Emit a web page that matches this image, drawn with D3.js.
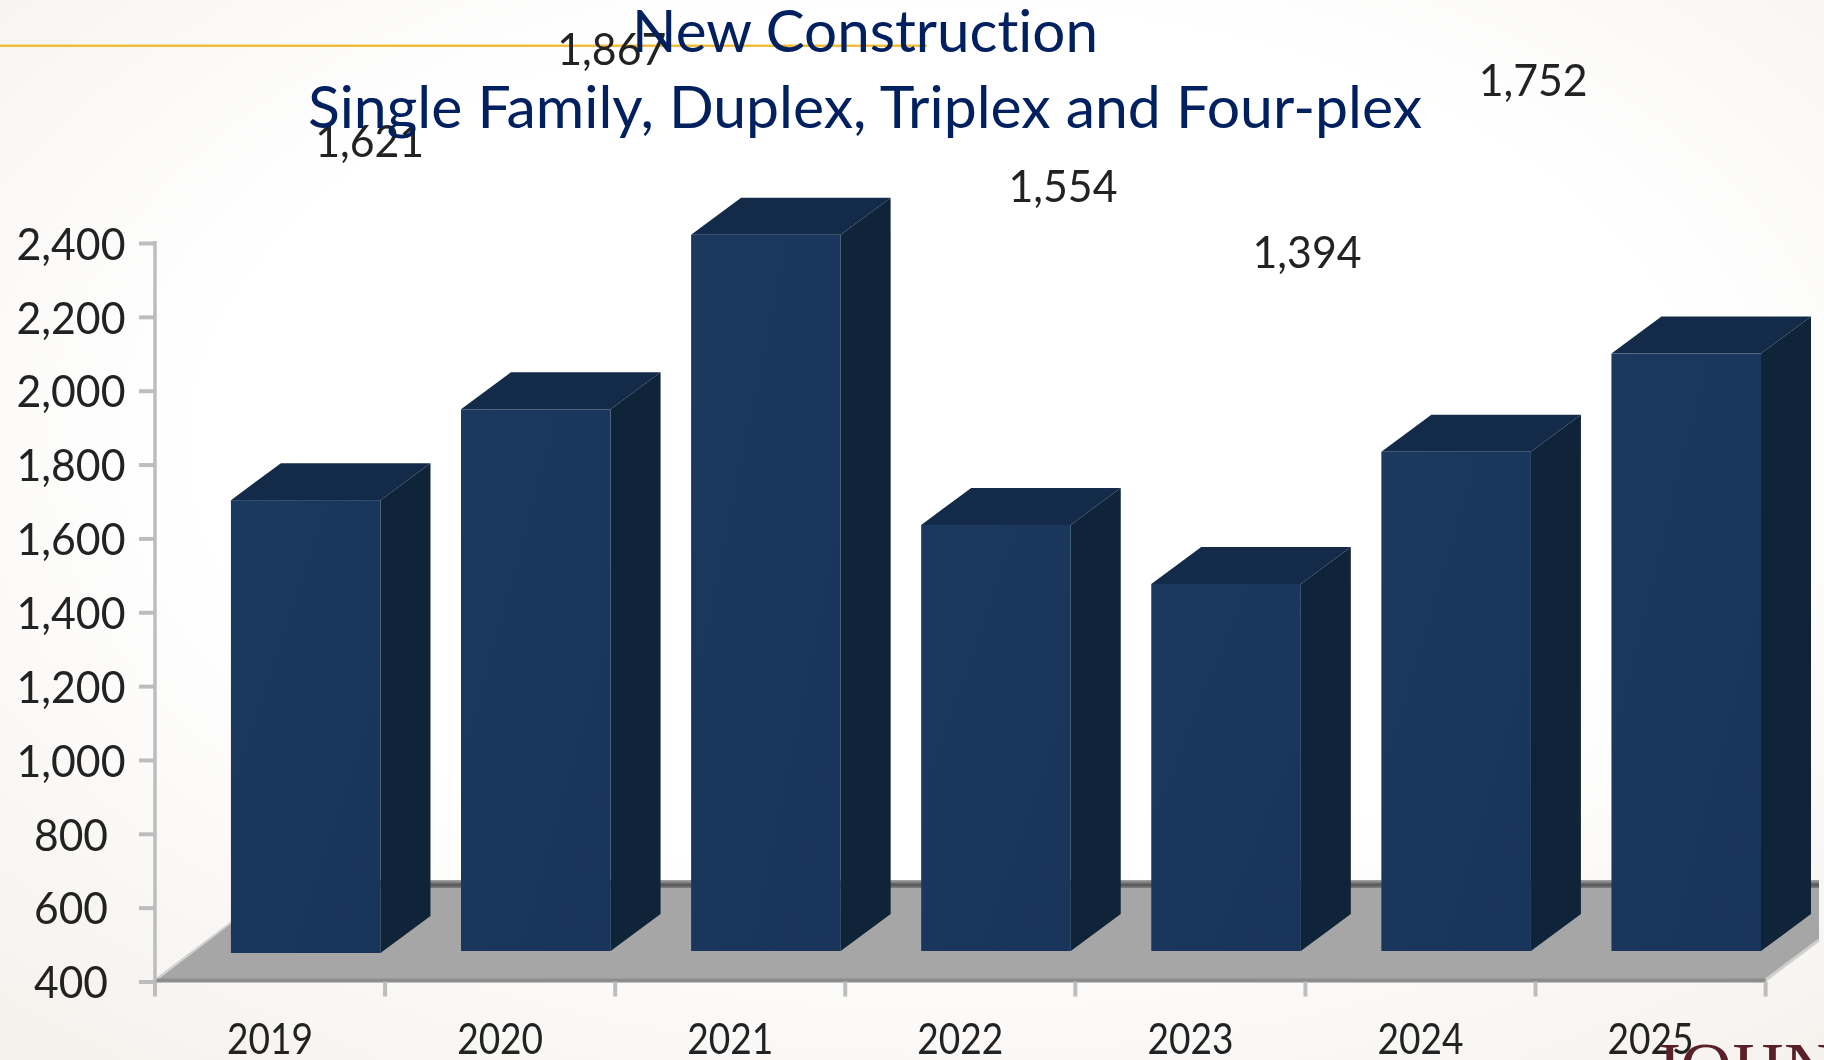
<!DOCTYPE html>
<html>
<head>
<meta charset="utf-8">
<script src="https://cdnjs.cloudflare.com/ajax/libs/d3/7.8.5/d3.min.js"></script>
<style>
  html, body { margin: 0; padding: 0; background: #fff; overflow: hidden; }
  svg { display: block; }
  text { font-family: Lato, "Open Sans", sans-serif; font-variant-ligatures: none; }
</style>
</head>
<body>
<svg id="chart" width="1824" height="1060"></svg>
<script>
// values read off the picture; 2021 and 2025 have no printed label, so those two are read from the bar height
const years = ["2019", "2020", "2021", "2022", "2023", "2024", "2025"]
const permits = [1621, 1867, 2340, 1554, 1394, 1752, 2018]
const printedYears = ["2019", "2020", "2022", "2023", "2024"]
const yTicks = [400, 600, 800, 1000, 1200, 1400, 1600, 1800, 2000, 2200, 2400]
const titleLines = ["New Construction", "Single Family, Duplex, Triplex and Four-plex"]

// where the stray data labels landed, relative to their bar (layout only)
const labelNudge = {
  "2019": [64, -343],
  "2020": [76, -344],
  "2022": [67, -323],
  "2023": [81, -316],
  "2024": [77, -356]
}

const depthX = 50
const depthY = 37
const barRise = 30.5 // front of the bars sits in front of the axis plane

const svg = d3.select("#chart")
const defs = svg.append("defs")

const bg = defs.append("radialGradient").attr("id", "bg")
  .attr("cx", "52%").attr("cy", "42%").attr("r", "75%")
bg.append("stop").attr("offset", "55%").attr("stop-color", "#ffffff")
bg.append("stop").attr("offset", "100%").attr("stop-color", "#f5f2ee")

const front = defs.append("linearGradient").attr("id", "front")
  .attr("x1", 0).attr("y1", 0).attr("x2", 1).attr("y2", 1)
front.append("stop").attr("offset", "0%").attr("stop-color", "#1b385f")
front.append("stop").attr("offset", "100%").attr("stop-color", "#18345a")

const backEdge = defs.append("linearGradient").attr("id", "backEdge")
  .attr("x1", 0).attr("y1", 0).attr("x2", 0).attr("y2", 1)
backEdge.append("stop").attr("offset", "0%").attr("stop-color", "#a8a8a8")
backEdge.append("stop").attr("offset", "60%").attr("stop-color", "#555555")
backEdge.append("stop").attr("offset", "100%").attr("stop-color", "#808080")

defs.append("filter").attr("id", "soft")
  .append("feGaussianBlur").attr("stdDeviation", 0.7)

svg.append("rect").attr("width", 1824).attr("height", 1060).attr("fill", "url(#bg)")

svg.append("rect").attr("x", 0).attr("y", 44.5).attr("width", 927).attr("height", 2.5).attr("fill", "#f0bd3c")

const x = d3.scaleBand().domain(years).range([155, 1765.6])
const y = d3.scaleLinear().domain([400, 2400]).range([981.5, 243])
const barWidth = x.bandwidth() * 0.65
const barLeft = year => x(year) + x.bandwidth() * 0.33
const barTop = value => y(value) - barRise
const barBase = year => y(400) - barRise + (year === "2019" ? 2 : 0)

// stretch a text to the width it has in the picture
function fit(selection, width) {
  selection.attr("textLength", width).attr("lengthAdjust", "spacingAndGlyphs")
}

// floor
const floorBack = 885
const floorLeft = [155, y(400)]
const floorRight = [1765.6, y(400)]
svg.append("polygon")
  .attr("points", [floorLeft, [281, floorBack], [1819, floorBack], [1819, 940], floorRight].join(" "))
  .attr("fill", "#a6a6a6")
svg.append("rect").attr("x", 281).attr("y", 880).attr("width", 1538).attr("height", 8).attr("fill", "url(#backEdge)")
svg.append("line").attr("x1", 1765.6).attr("y1", 980).attr("x2", 1819).attr("y2", 940)
  .attr("stroke", "#cfcfcf").attr("stroke-width", 3)
svg.append("line").attr("x1", 155).attr("y1", 980).attr("x2", 281).attr("y2", floorBack)
  .attr("stroke", "#cfcfcf").attr("stroke-width", 2)
svg.append("line").attr("x1", 155).attr("y1", y(400) - 1).attr("x2", 1765.6).attr("y2", y(400) - 1)
  .attr("stroke", "#8c8c8c").attr("stroke-width", 4)

// y axis
const yAxis = svg.append("g")
  .attr("transform", "translate(155,0)")
  .call(d3.axisLeft(y).tickValues(yTicks).tickFormat(d3.format(",")).tickSize(16).tickPadding(0))
yAxis.select(".domain").remove()
yAxis.append("line").attr("y1", y(2400) - 2).attr("y2", y(400)).attr("stroke", "#bdbdbd").attr("stroke-width", 3.5)
yAxis.selectAll(".tick line").attr("stroke", "#bdbdbd").attr("stroke-width", 4)
yAxis.selectAll(".tick text")
  .attr("x", -84).attr("dy", "0.36em")
  .attr("text-anchor", "middle").attr("font-size", 45).attr("fill", "#222")
  .attr("filter", "url(#soft)")
  .each(function(d) { fit(d3.select(this), d >= 1000 ? 109 : 74) })

// x axis: the ticks sit on the band edges, the labels on the band centres
svg.append("g").selectAll("line")
  .data(years.concat("end"))
  .join("line")
  .attr("x1", d => d === "end" ? x.range()[1] : x(d))
  .attr("x2", d => d === "end" ? x.range()[1] : x(d))
  .attr("y1", y(400))
  .attr("y2", y(400) + 15)
  .attr("stroke", "#bdbdbd")
  .attr("stroke-width", 4)

const xAxis = svg.append("g")
  .attr("transform", `translate(0,${y(400)})`)
  .call(d3.axisBottom(x).tickSize(0).tickPadding(0))
xAxis.select(".domain").remove()
xAxis.selectAll(".tick text")
  .attr("y", 72.5).attr("dy", 0)
  .attr("font-size", 42).attr("fill", "#222")
  .attr("filter", "url(#soft)")
  .call(fit, 86)

// bars
const rows = years.map((year, i) => ({year, value: permits[i]}))
const bars = svg.append("g").selectAll("g").data(rows).join("g")

bars.append("polygon") // side
  .attr("points", d => {
    const r = barLeft(d.year) + barWidth
    const t = barTop(d.value)
    const b = barBase(d.year)
    return [[r, t], [r + depthX, t - depthY], [r + depthX, b - depthY], [r, b]].join(" ")
  })
  .attr("fill", "#0f2339")

bars.append("polygon") // top
  .attr("points", d => {
    const l = barLeft(d.year)
    const t = barTop(d.value)
    return [[l, t], [l + depthX, t - depthY], [l + barWidth + depthX, t - depthY], [l + barWidth, t]].join(" ")
  })
  .attr("fill", "#132a49")

bars.append("rect") // front
  .attr("x", d => barLeft(d.year))
  .attr("y", d => barTop(d.value))
  .attr("width", barWidth)
  .attr("height", d => barBase(d.year) - barTop(d.value))
  .attr("fill", "url(#front)")

// data labels
svg.append("g").selectAll("text")
  .data(rows.filter(d => printedYears.includes(d.year)))
  .join("text")
  .attr("x", d => barLeft(d.year) + barWidth / 2 + labelNudge[d.year][0])
  .attr("y", d => barTop(d.value) + labelNudge[d.year][1])
  .attr("text-anchor", "middle")
  .attr("font-size", 45)
  .attr("fill", "#222")
  .attr("filter", "url(#soft)")
  .text(d => d3.format(",")(d.value))
  .call(fit, 109)

// title
svg.append("g").selectAll("text")
  .data(titleLines)
  .join("text")
  .attr("x", 865)
  .attr("y", (d, i) => i === 0 ? 52 : 128)
  .attr("text-anchor", "middle")
  .attr("font-size", 58)
  .attr("fill", "#002060")
  .text(d => d)
  .each(function(d, i) { fit(d3.select(this), i === 0 ? 466 : 1114) })

// logo cut off by the slide edge
svg.append("text")
  .attr("x", 1652)
  .attr("y", 1092)
  .attr("font-size", 72)
  .attr("fill", "#5a2028")
  .style("font-family", "'Liberation Serif', serif")
  .text("JOHN")
</script>
</body>
</html>
